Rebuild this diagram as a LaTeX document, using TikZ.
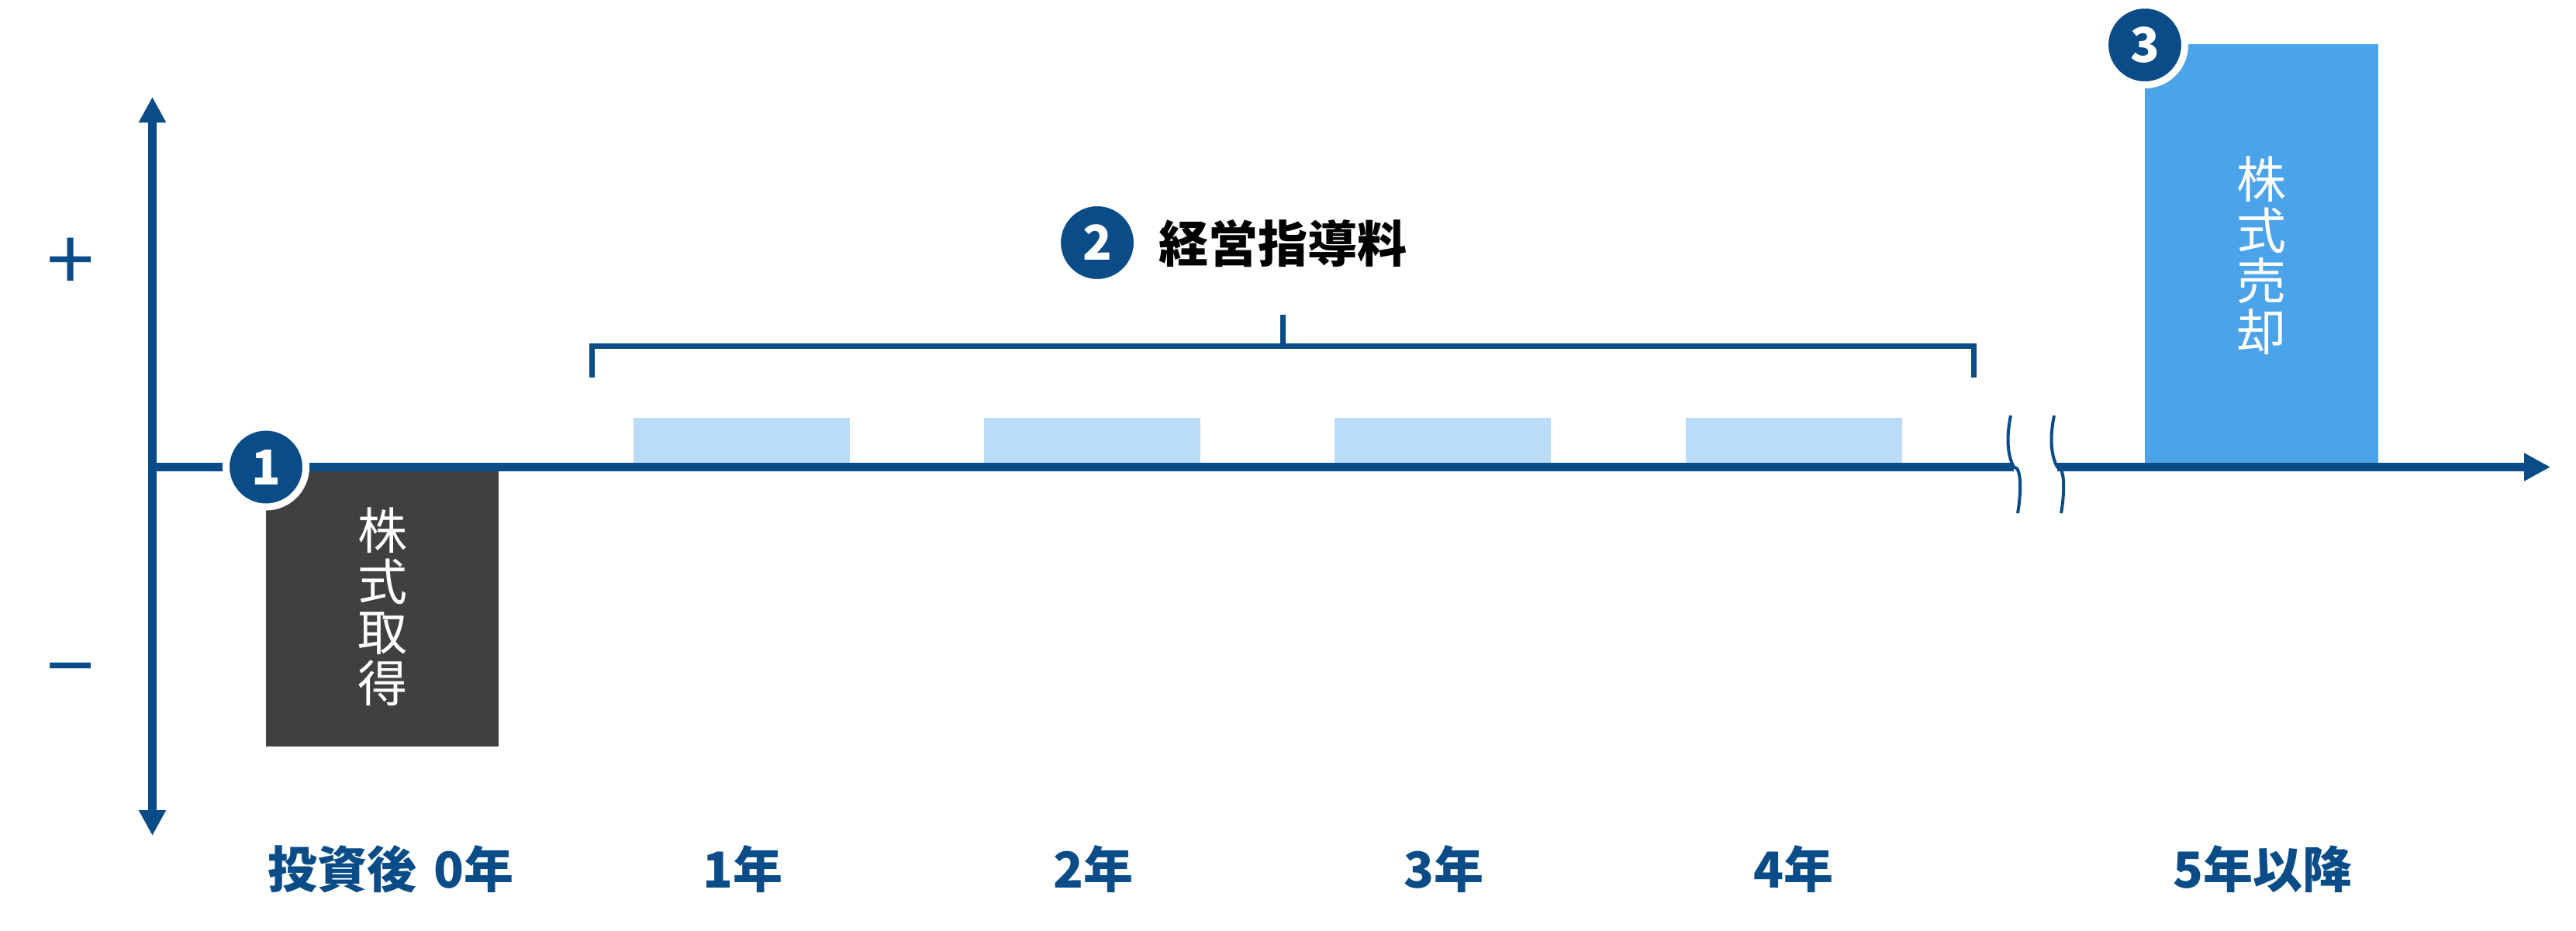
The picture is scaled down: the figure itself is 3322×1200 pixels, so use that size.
\documentclass[tikz,border=0pt]{standalone}
\usepackage{fontspec}
\setmainfont{Noto Sans CJK JP}
\usetikzlibrary{arrows.meta}
\definecolor{navy}{HTML}{0A4C87}
\definecolor{darkbox}{HTML}{404040}
\definecolor{lightbar}{HTML}{BBDCF8}
\definecolor{salebox}{HTML}{4BA3E9}
\begin{document}
\begin{tikzpicture}[x=1pt,y=-1pt,
  axisline/.style={draw=navy, line width=11pt},
  thinmark/.style={draw=navy, line width=4pt},
  bracketline/.style={draw=navy, line width=7pt, miter limit=10},
  barbox/.style={draw=none, inner sep=0pt, outer sep=0pt},
  vtext/.style={text=white, align=center, font=\fontsize{64}{65.5}\selectfont},
  numcirc/.style={circle, fill=navy, draw=white, line width=9pt, minimum size=103pt, inner sep=0pt, text=white, font=\fontsize{62}{62}\selectfont\bfseries},
  yearlabel/.style={text=navy, anchor=base, inner sep=0pt, font=\fontsize{64}{64}\selectfont\bfseries},
  signlabel/.style={text=navy, inner sep=0pt, font=\fontsize{110}{110}\selectfont},
  tipv/.tip={Triangle[length=33pt,width=33pt]},
  tiph/.tip={Triangle[length=34pt,width=34pt]}
]
\useasboundingbox[fill=white] (0,0) rectangle (3322,1200);

% bars
\node[barbox, fill=darkbox, minimum width=300pt, minimum height=361pt, vtext] (buy) at (493,782.5) {株\\式\\取\\得};
\node[barbox, fill=salebox, minimum width=301pt, minimum height=545pt, vtext] (sell) at (2916.5,329.5) {株\\式\\売\\却};
\node[barbox, fill=lightbar, minimum width=279pt, minimum height=63pt] (fee1) at (956.5,570.5) {};
\node[barbox, fill=lightbar, minimum width=279pt, minimum height=63pt] (fee2) at (1408.5,570.5) {};
\node[barbox, fill=lightbar, minimum width=279pt, minimum height=63pt] (fee3) at (1860.5,570.5) {};
\node[barbox, fill=lightbar, minimum width=279pt, minimum height=63pt] (fee4) at (2313,570.5) {};

% axes
\coordinate (ytop) at (196.5,125);
\coordinate (ybot) at (196.5,1078);
\coordinate (origin) at (196.5,602.5);
\coordinate (breakL) at (2597,602.5);
\coordinate (breakR) at (2653,602.5);
\coordinate (xend) at (3289,602.5);
\draw[axisline, tipv-tipv] (ybot) -- (ytop);
\draw[axisline] (origin) -- (breakL);
\draw[axisline, -tiph] (breakR) -- (xend);

% break marks
\draw[thinmark] (2593,536) .. controls (2587,565) and (2589,588) .. (breakL) .. controls (2608,602) and (2606,640) .. (2602,662);
\draw[thinmark] (2649,536) .. controls (2643,565) and (2645,588) .. (breakR) .. controls (2664,602) and (2662,640) .. (2658,662);

% bracket
\coordinate (brL) at (763.5,487);
\coordinate (brLt) at (763.5,446.5);
\coordinate (brRt) at (2545,446.5);
\coordinate (brR) at (2545,487);
\coordinate (brM) at (1654.5,446.5);
\coordinate (brMt) at (1654.5,406);
\draw[bracketline] (brL) -- (brLt) -- (brRt) -- (brR);
\draw[bracketline] (brM) -- (brMt);

% signs
\node[signlabel] (plus) at (91.5,341) {+};
\node[signlabel] (minus) at (91.5,877) {−};

% numbered circles
\node[numcirc] (c1) at (343,602.5) {1};
\node[numcirc] (c2) at (1415,313) {2};
\node[numcirc] (c3) at (2766,58) {3};

% title
\node[anchor=base, inner sep=0pt, font=\fontsize{64}{64}\selectfont\bfseries] (feetitle) at (1654,338) {経営指導料};

% year labels
\node[yearlabel] (y0) at (504,1145) {投資後\hspace{0.35em}0年};
\node[yearlabel] (y1) at (958,1145) {1年};
\node[yearlabel] (y2) at (1410,1145) {2年};
\node[yearlabel] (y3) at (1862,1145) {3年};
\node[yearlabel] (y4) at (2313,1145) {4年};
\node[yearlabel] (y5) at (2918,1145) {5年以降};
\end{tikzpicture}
\end{document}
